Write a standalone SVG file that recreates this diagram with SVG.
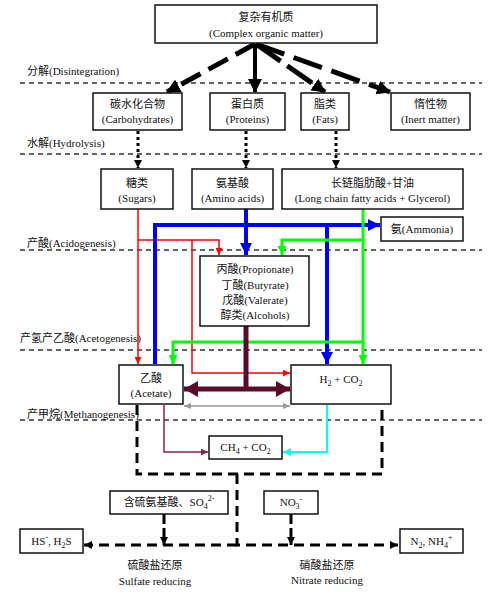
<svg xmlns="http://www.w3.org/2000/svg" width="500" height="596" viewBox="0 0 500 596">
<style>
text{font-family:"Liberation Serif","Noto Sans CJK SC",serif;font-size:11px;fill:#111;text-anchor:middle}
.ph{text-anchor:start}
.box{fill:#fff;stroke:#111;stroke-width:1.5}
.sep{stroke:#333;stroke-width:1.3;stroke-dasharray:5,4;fill:none}
.sub{font-size:8px}
</style>
<defs>
<marker id="aBk" markerUnits="userSpaceOnUse" markerWidth="14" markerHeight="14" refX="13" refY="7" orient="auto"><path d="M0,0 L14,7 L0,14 z" fill="#000"/></marker>
<marker id="aSm" markerUnits="userSpaceOnUse" markerWidth="8" markerHeight="8" refX="8" refY="4" orient="auto"><path d="M0,0 L8,4 L0,8 z" fill="#000"/></marker>
<marker id="aR" markerUnits="userSpaceOnUse" markerWidth="7" markerHeight="7" refX="7" refY="3.5" orient="auto"><path d="M0,0 L7,3.5 L0,7 z" fill="#f00"/></marker>
<marker id="aB" markerUnits="userSpaceOnUse" markerWidth="12" markerHeight="12" refX="12" refY="6" orient="auto"><path d="M0,0 L12,6 L0,12 z" fill="#00f"/></marker>
<marker id="aG" markerUnits="userSpaceOnUse" markerWidth="9" markerHeight="9" refX="9" refY="4.5" orient="auto"><path d="M0,0 L9,4.5 L0,9 z" fill="#0f0"/></marker>
<marker id="aM" markerUnits="userSpaceOnUse" markerWidth="14" markerHeight="16" refX="14" refY="8" orient="auto-start-reverse"><path d="M0,0 L14,8 L0,16 z" fill="#5a0a2a"/></marker>
<marker id="aGr" markerUnits="userSpaceOnUse" markerWidth="7" markerHeight="6" refX="7" refY="3" orient="auto-start-reverse"><path d="M0,0 L7,3 L0,6 z" fill="#999"/></marker>
<marker id="aP" markerUnits="userSpaceOnUse" markerWidth="7" markerHeight="7" refX="7" refY="3.5" orient="auto"><path d="M0,0 L7,3.5 L0,7 z" fill="#8b2252"/></marker>
<marker id="aC" markerUnits="userSpaceOnUse" markerWidth="8" markerHeight="8" refX="8" refY="4" orient="auto"><path d="M0,0 L8,4 L0,8 z" fill="#0ff"/></marker>
</defs>

<g id="phases">
<line class="sep" x1="20" y1="83" x2="482" y2="83"/>
<line class="sep" x1="20" y1="154" x2="482" y2="154"/>
<line class="sep" x1="20" y1="250" x2="482" y2="250"/>
<line class="sep" x1="20" y1="350" x2="482" y2="350"/>
<line class="sep" x1="20" y1="420" x2="482" y2="420"/>
<text class="ph" x="27" y="75">分解(Disintegration)</text>
<text class="ph" x="27" y="147">水解(Hydrolysis)</text>
<text class="ph" x="27" y="247">产酸(Acidogenesis)</text>
<text class="ph" x="20" y="342">产氢产乙酸(Acetogenesis)</text>
<text class="ph" x="27" y="418">产甲烷(Methanogenesis)</text>
</g>

<g id="connectors" fill="none">
<line x1="255" y1="44" x2="167" y2="92" stroke="#000" stroke-width="5" stroke-dasharray="22,9" marker-end="url(#aBk)"/>
<line x1="255" y1="44" x2="255" y2="92" stroke="#000" stroke-width="4" marker-end="url(#aBk)"/>
<line x1="256" y1="44" x2="325" y2="92" stroke="#000" stroke-width="5" stroke-dasharray="30,8" marker-end="url(#aBk)"/>
<line x1="256" y1="44" x2="390" y2="92" stroke="#000" stroke-width="5" stroke-dasharray="30,10" marker-end="url(#aBk)"/>
<line x1="138" y1="131" x2="138" y2="168" stroke="#000" stroke-width="3" stroke-dasharray="3,3" marker-end="url(#aSm)"/>
<line x1="246" y1="131" x2="246" y2="168" stroke="#000" stroke-width="3" stroke-dasharray="3,3" marker-end="url(#aSm)"/>
<line x1="336" y1="131" x2="336" y2="168" stroke="#000" stroke-width="3" stroke-dasharray="3,3" marker-end="url(#aSm)"/>
<g stroke="#f00" stroke-width="1.5">
<polyline points="138,209 138,364" marker-end="url(#aR)"/>
<polyline points="138,240 219,240 219,255" marker-end="url(#aR)"/>
<polyline points="192,240 192,373 290,373" marker-end="url(#aR)"/>
</g>
<g stroke="#00f" stroke-width="4">
<polyline points="246,209 246,255" marker-end="url(#aB)"/>
<polyline points="155,364 155,225 380,225" marker-end="url(#aB)"/>
<polyline points="327,225 327,364" marker-end="url(#aB)"/>
</g>
<g stroke="#0f0" stroke-width="3">
<polyline points="363,209 363,364" marker-end="url(#aG)"/>
<polyline points="363,240 282,240 282,255" marker-end="url(#aG)"/>
<polyline points="363,342 173,342 173,364" marker-end="url(#aG)"/>
</g>
<line x1="246" y1="326" x2="246" y2="389" stroke="#5a0a2a" stroke-width="5"/>
<line x1="184" y1="389" x2="290" y2="389" stroke="#5a0a2a" stroke-width="5" marker-start="url(#aM)" marker-end="url(#aM)"/>
<line x1="184" y1="406" x2="290" y2="406" stroke="#999" stroke-width="1.5" marker-start="url(#aGr)" marker-end="url(#aGr)"/>
<polyline points="164,405 164,452 208,452" stroke="#8b2252" stroke-width="1.5" marker-end="url(#aP)"/>
<polyline points="327,405 327,452 283,452" stroke="#0ff" stroke-width="2" marker-end="url(#aC)"/>
<g stroke="#000" stroke-width="3" stroke-dasharray="10,6">
<polyline points="137,405 137,474 382,474 382,405"/>
<polyline points="237,474 237,545 398,545" marker-end="url(#aSm)"/>
<polyline points="237,545 84,545" marker-end="url(#aSm)"/>
<polyline points="164,514 164,545" stroke-dasharray="10,4" marker-end="url(#aSm)"/>
<polyline points="291,514 291,545" stroke-dasharray="10,4" marker-end="url(#aSm)"/>
</g>
</g>

<g id="n-complex"><rect class="box" x="155" y="5" width="222" height="38"/><text x="266" y="21">复杂有机质</text><text x="266" y="37">(Complex organic matter)</text></g>
<g id="n-carb"><rect class="box" x="93" y="93" width="89" height="37"/><text x="137.5" y="108">碳水化合物</text><text x="137.5" y="123">(Carbohydrates)</text></g>
<g id="n-prot"><rect class="box" x="210" y="93" width="75" height="37"/><text x="247.5" y="108">蛋白质</text><text x="247.5" y="123">(Proteins)</text></g>
<g id="n-fats"><rect class="box" x="301" y="93" width="48" height="37"/><text x="325" y="108">脂类</text><text x="325" y="123">(Fats)</text></g>
<g id="n-inert"><rect class="box" x="391" y="93" width="79" height="37"/><text x="430.5" y="108">惰性物</text><text x="430.5" y="123">(Inert matter)</text></g>
<g id="n-sugars"><rect class="box" x="101" y="169" width="72" height="40"/><text x="137" y="187">糖类</text><text x="137" y="202">(Sugars)</text></g>
<g id="n-amino"><rect class="box" x="192" y="169" width="81" height="40"/><text x="232.5" y="187">氨基酸</text><text x="232.5" y="202">(Amino acids)</text></g>
<g id="n-lcfa"><rect class="box" x="282" y="169" width="181" height="40"/><text x="372.5" y="187">长链脂肪酸+甘油</text><text x="372.5" y="202">(Long chain fatty acids + Glycerol)</text></g>
<g id="n-ammonia"><rect class="box" x="381" y="217" width="82" height="24"/><text x="422" y="233">氨(Ammonia)</text></g>
<g id="n-vfa"><rect class="box" x="200" y="256" width="109" height="70"/><text x="255" y="273">丙酸(Propionate)</text><text x="255" y="289">丁酸(Butyrate)</text><text x="255" y="304">戊酸(Valerate)</text><text x="255" y="319">醇类(Alcohols)</text></g>
<g id="n-acetate"><rect class="box" x="119" y="365" width="64" height="39"/><text x="151" y="382">乙酸</text><text x="151" y="397">(Acetate)</text></g>
<g id="n-h2co2"><rect class="box" x="291" y="365" width="100" height="39"/><text x="341" y="383">H<tspan class="sub" dy="3">2</tspan><tspan dy="-3"> + CO</tspan><tspan class="sub" dy="3">2</tspan></text></g>
<g id="n-ch4"><rect class="box" x="209" y="436" width="73" height="23"/><text x="245.5" y="451">CH<tspan class="sub" dy="3">4</tspan><tspan dy="-3"> + CO</tspan><tspan class="sub" dy="3">2</tspan></text></g>
<g id="n-sulfur"><rect class="box" x="110" y="491" width="118" height="23"/><text x="169" y="506">含硫氨基酸、SO<tspan class="sub" dy="3">4</tspan><tspan class="sub" dy="-8">2-</tspan></text></g>
<g id="n-no3"><rect class="box" x="264" y="491" width="54" height="23"/><text x="291" y="506">NO<tspan class="sub" dy="3">3</tspan><tspan class="sub" dy="-7">-</tspan></text></g>
<g id="n-hs"><rect class="box" x="20" y="529" width="63" height="24"/><text x="51.5" y="545">HS<tspan class="sub" dy="-5">-</tspan><tspan dy="5">, H</tspan><tspan class="sub" dy="3">2</tspan><tspan dy="-3">S</tspan></text></g>
<g id="n-n2"><rect class="box" x="400" y="529" width="63" height="24"/><text x="431.5" y="545">N<tspan class="sub" dy="3">2</tspan><tspan dy="-3">, NH</tspan><tspan class="sub" dy="3">4</tspan><tspan class="sub" dy="-8">+</tspan></text></g>
<g id="labels"><text x="155" y="569">硫酸盐还原</text><text x="155" y="585">Sulfate reducing</text><text x="327" y="569">硝酸盐还原</text><text x="327" y="584">Nitrate reducing</text></g>
</svg>
